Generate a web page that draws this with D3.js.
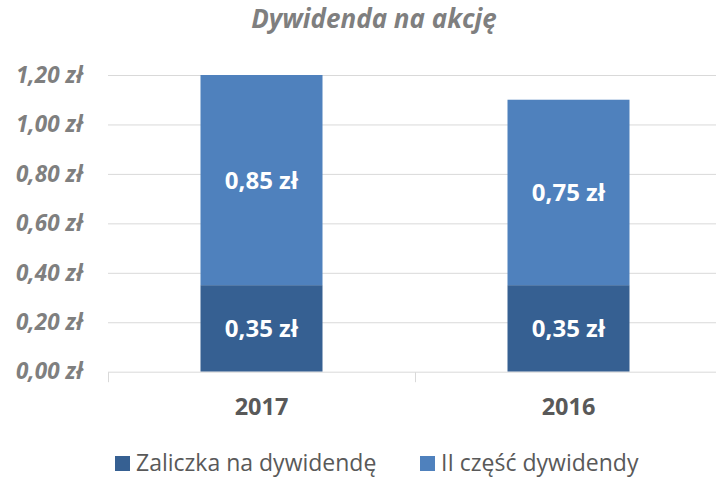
<!DOCTYPE html>
<meta charset="utf-8">
<script src="https://d3js.org/d3.v7.min.js"></script>
<style>
    body { margin: 0; background: #fff; }
    text { font-family: "Open Sans", sans-serif; }
</style>
<div id="chart"></div>
<script>
    // data
    var years = ["2017", "2016"];
    var advance = [0.35, 0.35];       // Zaliczka na dywidendę
    var secondPart = [0.85, 0.75];    // II część dywidendy
    var seriesNames = ["Zaliczka na dywidendę", "II część dywidendy"];
    var yTicks = [0, 0.2, 0.4, 0.6, 0.8, 1.0, 1.2];

    var W = 716, H = 478;
    var colors = ["#366092", "#4f81bd"];

    var svg = d3.select("#chart").append("svg")
        .attr("width", W).attr("height", H);

    var x = d3.scaleBand().domain(years).range([108, 722]);
    var y = d3.scaleLinear().domain([0, 1.2]).range([371.7, 75]);

    var fmt = function (v) { return d3.format(".2f")(v).replace(".", ",") + " zł"; };

    // title
    svg.append("text")
        .attr("x", 374).attr("y", 28)
        .attr("text-anchor", "middle")
        .attr("font-size", 26).attr("font-weight", "bold").attr("font-style", "italic")
        .attr("fill", "#7f7f7f")
        .text("Dywidenda na akcję");

    // gridlines
    svg.append("g").selectAll("line")
        .data(yTicks.slice(1))
        .enter().append("line")
        .attr("x1", 108).attr("x2", W)
        .attr("y1", function (d) { return y(d) + 0.5; })
        .attr("y2", function (d) { return y(d) + 0.5; })
        .attr("stroke", "#d9d9d9").attr("stroke-width", 1);

    // y axis labels
    var yAxis = svg.append("g")
        .attr("transform", "translate(86,0)")
        .call(d3.axisLeft(y).tickValues(yTicks).tickFormat(fmt).tickSize(0).tickPadding(3));
    yAxis.select(".domain").remove();
    yAxis.selectAll("text")
        .attr("font-size", 22.5).attr("font-weight", "bold").attr("font-style", "italic")
        .attr("fill", "#7f7f7f").style("font-family", "'Open Sans', sans-serif");

    // stacked data
    var rows = years.map(function (yr, i) { return { year: yr, a: advance[i], b: secondPart[i] }; });
    var stack = d3.stack().keys(["a", "b"])(rows);
    var barW = 122;

    var layers = svg.append("g").selectAll("g")
        .data(stack).enter().append("g")
        .attr("fill", function (d, i) { return colors[i]; });

    layers.selectAll("rect")
        .data(function (d) { return d; })
        .enter().append("rect")
        .attr("x", function (d) { return x(d.data.year) + x.bandwidth() / 2 - barW / 2; })
        .attr("y", function (d) { return y(d[1]); })
        .attr("width", barW)
        .attr("height", function (d) { return y(d[0]) - y(d[1]); });

    layers.selectAll("text")
        .data(function (d) { return d; })
        .enter().append("text")
        .attr("x", function (d) { return x(d.data.year) + x.bandwidth() / 2; })
        .attr("y", function (d) { return (y(d[0]) + y(d[1])) / 2; })
        .attr("dy", "0.36em")
        .attr("text-anchor", "middle")
        .attr("font-size", 24).attr("font-weight", "bold")
        .attr("fill", "#fff")
        .text(function (d) { return fmt(d[1] - d[0]); });

    // x axis
    var xAxis = svg.append("g")
        .attr("transform", "translate(0," + (y(0) + 0.5) + ")")
        .call(d3.axisBottom(x).tickSize(0).tickPadding(26));
    xAxis.select(".domain").attr("stroke", "#d9d9d9").attr("d", "M108,0H" + W);
    xAxis.selectAll("text")
        .attr("font-size", 23.5).attr("font-weight", "bold").attr("fill", "#595959")
        .style("font-family", "'Open Sans', sans-serif");
    // category boundary ticks
    xAxis.append("g").selectAll("line")
        .data([108, x("2016")])
        .enter().append("line")
        .attr("x1", function (d) { return d + 0.5; }).attr("x2", function (d) { return d + 0.5; })
        .attr("y1", 0).attr("y2", 10)
        .attr("stroke", "#d9d9d9");

    // legend
    var legendX = [115, 420];
    var legend = svg.append("g").selectAll("g")
        .data(seriesNames).enter().append("g")
        .attr("transform", function (d, i) { return "translate(" + legendX[i] + ",456)"; });
    legend.append("rect")
        .attr("width", 15).attr("height", 15)
        .attr("fill", function (d, i) { return colors[i]; });
    legend.append("text")
        .attr("x", 21).attr("y", 15)
        .attr("font-size", 23).attr("fill", "#595959")
        .text(function (d) { return d; });
</script>
